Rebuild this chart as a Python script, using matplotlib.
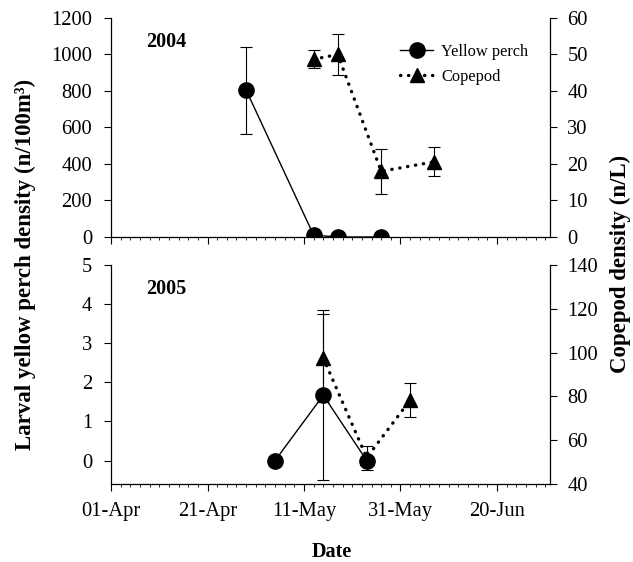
import matplotlib
matplotlib.use("Agg")
import matplotlib.pyplot as plt
from matplotlib.lines import Line2D
from matplotlib.ticker import MultipleLocator

plt.rcParams['font.family'] = ['Liberation Serif', 'DejaVu Serif']

# days since 01-Apr
date_ticks = [0, 20, 40, 60, 80]
date_labels = ['01-Apr', '21-Apr', '11-May', '31-May', '20-Jun']

# 2004
yp04_days = [28, 42, 47, 56]
yp04_val = [805, 10, 0, 0]
yp04_err = [238, 0, 0, 0]
cop04_days = [42, 47, 56, 67]
cop04_val = [48.7, 50.0, 18.0, 20.6]
cop04_err = [2.5, 5.6, 6.2, 4.0]

# 2005
yp05_days = [34, 44, 53]
yp05_val = [0, 1.67, 0]
yp05_err = [0, 2.18, 0]
cop05_days = [44, 53, 62]
cop05_val = [97.5, 52.0, 78.3]
cop05_err = [20.0, 5.5, 7.6]

fig = plt.figure(figsize=(6.33, 5.62), dpi=100)
ax1 = fig.add_axes([0.1754, 0.5783, 0.6935, 0.3897])
ax2 = fig.add_axes([0.1754, 0.1388, 0.6935, 0.3897])

tick_kw = dict(labelsize=14.8, length=5, width=0.8, direction='out', color='black')
dot_ls = (0, (0.1, 2.3))


def draw_panel(ax, days, val, err, cdays, cval, cerr, ylim, yticks, rlim, rticks, year):
    axr = ax.twinx()
    ax.set_zorder(axr.get_zorder() + 1)
    ax.patch.set_visible(False)

    ax.errorbar(days, val, yerr=err, fmt='o', ls='-', color='black', lw=1.0,
                ms=11, capsize=4, elinewidth=0.8, capthick=0.8)
    axr.errorbar(cdays, cval, yerr=cerr, fmt='^', ls=dot_ls, color='black',
                 lw=2.4, ms=10, capsize=4, elinewidth=0.8, capthick=0.8,
                 dash_capstyle='round')

    ax.set_xlim(0, 91)
    ax.set_ylim(*ylim)
    ax.set_yticks(yticks)
    axr.set_ylim(*rlim)
    axr.set_yticks(rticks)
    ax.set_xticks(date_ticks)
    ax.xaxis.set_minor_locator(MultipleLocator(2))
    ax.tick_params(axis='both', **tick_kw)
    ax.tick_params(axis='y', pad=8.5)
    ax.tick_params(axis='x', which='minor', length=2, width=0.6)
    axr.tick_params(axis='y', pad=7.5, **tick_kw)

    for s in ['top', 'right']:
        ax.spines[s].set_visible(False)
    for s in ['top', 'left', 'bottom']:
        axr.spines[s].set_visible(False)
    for a in (ax, axr):
        for s in a.spines.values():
            s.set_linewidth(0.9)

    ax.text(0.08, 0.89, year, transform=ax.transAxes, fontsize=14.5,
            fontweight='bold', va='center', ha='left')


draw_panel(ax1, yp04_days, yp04_val, yp04_err, cop04_days, cop04_val, cop04_err,
           (0, 1200), range(0, 1201, 200), (0, 60), range(0, 61, 10), '2004')
ax1.spines['bottom'].set_position(('data', 0))
ax1.set_xticklabels([])

draw_panel(ax2, yp05_days, yp05_val, yp05_err, cop05_days, cop05_val, cop05_err,
           (-0.6, 5), range(0, 6), (40, 140), range(40, 141, 20), '2005')
ax2.set_xticklabels(date_labels)
ax2.tick_params(axis='x', pad=8)

h_yp = Line2D([], [], color='black', lw=1.0, marker='o', ms=11)
h_cop = Line2D([], [], color='black', lw=2.4, ls=dot_ls, marker='^', ms=10,
               dash_capstyle='round')
ax1.legend([h_yp, h_cop], ['Yellow perch', 'Copepod'], loc='upper left',
           bbox_to_anchor=(0.625, 0.95), frameon=False, fontsize=11.8,
           handlelength=2.0, handletextpad=0.5, labelspacing=0.55)

fig.text(0.04, 0.53, 'Larval yellow perch density (n/100m³)', rotation=90,
         fontsize=16.5, fontweight='bold', ha='center', va='center')
fig.text(0.98, 0.53, 'Copepod density (n/L)', rotation=90,
         fontsize=16.5, fontweight='bold', ha='center', va='center')
fig.text(0.524, 0.018, 'Date', fontsize=14.5, fontweight='bold', ha='center', va='center')

fig.savefig('out.png', dpi=100)
